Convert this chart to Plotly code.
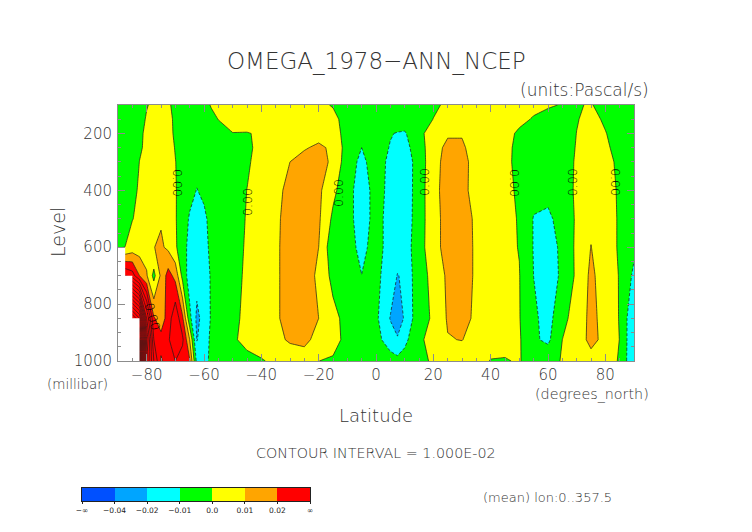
import numpy as np
import plotly.graph_objects as go

W, H = 752, 532

latitudes = [-90,-87.5,-85,-82.5,-80,-77.5,-75,-72.5,-70,-67.5,-65,-62.5,-60,-57.5,-55,
             -50,-45,-40,-35,-30,-25,-20,-15,-10,-5,0,5,7.5,10,15,20,25,30,35,40,45,50,55,60,65,70,75,80,85,90]
levels = [100,150,200,250,300,400,500,600,700,850,925,1000]

# omega, in units of 0.001 Pa/s
w100 = [-4,-4,-3,-2,-0.3,1,2,1,-1.8,-2.5,-3,-3,-2,0.4,1, 2,3,3,3,3,3,1.5,-0.5,-2,-3,-2.5,-3,-3,-3,-2,-1,1,2,2,2,2,1.5,1.5,0.8,-0.4,-0.5,0.5,-3,-3,-3]
w150 = [-5,-5,-4,-2,0.5,2,3,1.5,-1,-3,-4,-4,-3,-1.5,0.1, 3,4,4,5,5,5,5,2,-3,-4,-4,-5,-5,-5,-3,0.1,3,4,4,3,2.5,1.5,-0.5,-2.5,-2.5,-0.4,2,-1,-3,-3]
w200 = [-6,-6,-4,-1,1,3,3.5,2,-1,-3,-5,-5,-4,-3,-2, -0.2,-0.4,1,4,5,6,8,4,-3.5,-7,-5,-9.5,-10.5,-11,-2.5,4.5,9,9.5,6,4,2,-1,-4,-5,-4,0.1,3,0.3,-3,-4]
w250 = [-6,-6,-4,-1,1.5,3.5,4,3,-0.4,-3,-5,-7,-5,-4,-3, -1.5,-1,1.5,4,6,9.5,11,9,-5,-10,-6,-10.5,-12,-13,-5,6.5,12,11,7,4,2,-2,-5,-6,-4,0.5,5,1.5,-3,-4]
w300 = [-5,-5,-4,0.1,3,4,5,4,0.2,-3,-5,-7,-6,-4,-3, -1.5,-0.7,2,6,10,12,13,8.5,-6,-12,-6,-12,-14,-15,-6,7,13,12.5,7,4,2,-2.3,-6,-7,-4,1,6,3,-2,-4]
w400 = [-5,-4,-3,1.5,3,5,6,5,0.7,-4,-7,-10.3,-8,-5,-4, -2,0.05,3,7,13,14,12,2.5,-7,-14,-7,-12,-14,-16,-5,7,14,13,6,4,2,-1.2,-7,-7,-4,1.3,7,4,-1.3,-4]
w500 = [-3,-3,-0.3,2,3,4,9,6,0.8,-5,-11,-13,-12,-7,-5, -2,0.3,3,8,14,15,11.5,-2,-7,-14,-7,-13,-15,-16,-4.5,6,14,15,8,4,2,-0.5,-10.5,-12,-6,1.2,8,4,-1,-4]
w600 = [-1,0.1,4,5,6,9.8,11.5,8,1.5,-6,-13,-15,-13,-8,-5, -2,0.6,3,8,15,15,10,-7,-7,-12,-7,-13,-14.5,-15,-4,6,14,16,8,4,2,-0.3,-10.5,-14,-8,2,10.2,4,-1,-8]
w700 = [40,40,35,20,11,-3,12,24,17,-3,-15,-17,-15,-9,-5, -2,1,3,8,15,15,8,-3,-6,-9.9,-8,-14,-20.5,-18,-3,2,12,16,8,4,2,0.3,-10.1,-14,-8.5,1.8,12,5,-0.5,-12]
w850 = [150,150,150,130,60,21,15,24,38,22,-7,-22,-17,-9,-5, -1.5,1.5,3,8,15,15,10,3,-3.5,-6,-8,-20.5,-25,-19,-3,1,11,15,7,4,2,0.4,-8,-14,-2,3,13,6,-0.5,-19]
w925 = [170,170,170,150,80,30,23,28,40,32,10,-20.5,-15,-8,-4, -0.5,1,2.5,7,11.5,13,6,3,-2.5,-4,-6,-16,-19,-12.5,-2,3.9,9.5,10.3,6,3,1.5,1,-8.5,-12,0,4,13,7,-0.2,-19.5]
w1000 = [170,170,170,150,70,40,19,24,30,25,21,-13,-13,-8,-3, -1.5,-1,-0.4,1,3,4,0.05,-1,-1.5,-2,-3,-5,-7,-6,-2,1,3,4,3,-0.3,-0.3,0.4,-3,-3,0.6,3,6,5,-1,-19.5]

ground_lat = [-90,-87.5,-87.5,-85,-85,-82.5,-82.5,-90]
ground_level = [600,600,700,700,850,850,1000,1000]

label_lat = [-69.4,-45,-12.9,16.7,48.1,68.4,83.7,-78.1]
label_level = [374,441,409,371,374,371,371,845]
label_angle = [90,-90,-90,-90,90,-90,90,75]
label_text = ["0.00"]*8

band_colors = ["#0050ff","#00a5ff","#00ffff","#00ff00","#ffff00","#ffa500","#ff0000"]
band_edges = [-0.05,-0.04,-0.02,-0.01,0.0,0.01,0.02,0.03]
cbar_labels = ["\u2212\u221e","\u22120.04","\u22120.02","\u22120.01","0.0","0.01","0.02","\u221e"]

omega = np.array([w100,w150,w200,w250,w300,w400,w500,w600,w700,w850,w925,w1000])/1000.0

GRAY = "#333333"
FONT = "DejaVu Sans"
WEIGHT = 200
FRAME = "#8c8c8c"

zmin, zmax = band_edges[0], band_edges[-1]
scale = []
for c, a, b in zip(band_colors, band_edges[:-1], band_edges[1:]):
    scale.append([(a-zmin)/(zmax-zmin), c])
    scale.append([(b-zmin)/(zmax-zmin), c])

fig = go.Figure()
fig.add_trace(go.Contour(
    x=latitudes, y=levels, z=omega, zmin=zmin, zmax=zmax, zauto=False,
    colorscale=scale, showscale=False, autocontour=False,
    contours=dict(coloring="fill", start=-0.04, end=0.02, size=0.01),
    line=dict(width=0, smoothing=0), hoverinfo="skip"))
fig.add_trace(go.Contour(
    x=latitudes, y=levels, z=omega, showscale=False, autocontour=False,
    contours=dict(coloring="none", start=-0.02, end=-0.01, size=0.01),
    line=dict(color="#1a1a1a", width=0.7, dash="3px,2px", smoothing=0), hoverinfo="skip"))
fig.add_trace(go.Contour(
    x=latitudes, y=levels, z=omega, showscale=False, autocontour=False,
    contours=dict(coloring="none", start=0.0, end=0.17, size=0.01),
    line=dict(color="#1a1a1a", width=0.7, smoothing=0), hoverinfo="skip"))
fig.add_trace(go.Scatter(
    x=ground_lat, y=ground_level, mode="lines", fill="toself",
    fillcolor="white", line=dict(width=0), hoverinfo="skip", showlegend=False))

fig.add_trace(go.Heatmap(
    x=list(range(len(band_colors)+1)), y=[0,1], z=[list(range(len(band_colors)))],
    zmin=0, zmax=len(band_colors)-1, showscale=False, hoverinfo="skip",
    colorscale=[[i/(len(band_colors)-1), c] for i, c in enumerate(band_colors)],
    xaxis="x2", yaxis="y2"))

def px(x): return x/W
def py(y): return 1-y/H

def label(x, y, text, size, anchor="center", angle=0):
    fig.add_annotation(xref="paper", yref="paper", x=px(x), y=py(y), text=text,
                       showarrow=False, xanchor=anchor, yanchor="middle", textangle=angle,
                       font=dict(family=FONT, size=size, color=GRAY, weight=WEIGHT))

label(376, 61, "OMEGA_1978\u2212ANN_NCEP", 23)
label(651, 90, "(units:Pascal/s)", 17, "right")
label(58, 232, "Level", 19, angle=-90)
label(376, 415, "Latitude", 18)
label(110, 384, "(millibar)", 13.5, "right")
label(651, 394, "(degrees_north)", 14.3, "right")
label(376, 453, "CONTOUR INTERVAL = 1.000E-02", 14.3)
label(614, 497, "(mean) lon:0..357.5", 13, "right")

for la, le, an, te in zip(label_lat, label_level, label_angle, label_text):
    fig.add_annotation(x=la, y=le, xref="x", yref="y", text=te, showarrow=False, textangle=an,
                       font=dict(family=FONT, size=12.5, color="#000000", weight=WEIGHT))

tick = dict(ticks="inside", showgrid=False, zeroline=False, showline=True, linecolor=FRAME,
            linewidth=1, mirror="ticks", tickcolor=FRAME, tickwidth=1, ticklen=7,
            tickfont=dict(family=FONT, size=15, color=GRAY, weight=WEIGHT))
fig.update_layout(
    width=W, height=H, margin=dict(l=0, r=0, t=0, b=0, autoexpand=False), autosize=False,
    paper_bgcolor="white", plot_bgcolor="white", showlegend=False,
    xaxis=dict(domain=[px(118), px(634)], range=[-90, 90], tickmode="array",
               tickvals=list(range(-80, 81, 20)), ticklabelstandoff=0,
               minor=dict(dtick=5, ticks="inside", ticklen=3, tickcolor=FRAME, tickwidth=1), **tick),
    yaxis=dict(domain=[py(361), py(105)], range=[1000, 100], tickmode="array",
               tickvals=[200, 400, 600, 800, 1000], ticklabelstandoff=2,
               minor=dict(dtick=50, ticks="inside", ticklen=3, tickcolor=FRAME, tickwidth=1), **tick),
    xaxis2=dict(domain=[px(82), px(310)], range=[0, 7], anchor="y2", tickmode="array",
                tickvals=list(range(8)), ticktext=cbar_labels, ticks="outside", ticklen=2,
                tickcolor="#222", showline=True, linecolor="#222", mirror=True, showgrid=False, zeroline=False,
                tickfont=dict(family=FONT, size=7.5, color="#222")),
    yaxis2=dict(domain=[py(501), py(488)], range=[0, 1], anchor="x2", showticklabels=False,
                ticks="", showline=True, linecolor="#222", mirror=True, showgrid=False, zeroline=False),
)
fig.write_html("out.html", config=dict(displayModeBar=False), post_script="document.body.style.margin='0';")
